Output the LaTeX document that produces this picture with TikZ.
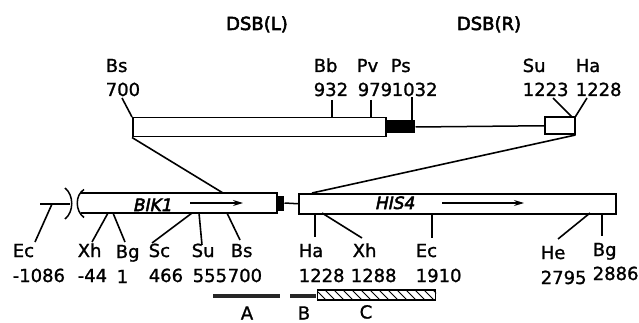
\documentclass[tikz,border=0pt]{standalone}
\usepackage{fontspec}
\setmainfont{DejaVu Sans}
\newfontfamily\labfont[FakeBold=1.2]{DejaVu Sans}
\newfontfamily\dsbfont[FakeBold=3]{DejaVu Sans}
\newfontfamily\genefont[FakeBold=3,FakeSlant=0.2]{DejaVu Sans}
\usetikzlibrary{arrows.meta}
\begin{document}
\begin{tikzpicture}[x=1pt,y=-1pt,line width=1.5pt,
  lab/.style={font=\labfont\fontsize{18}{18}\selectfont, inner sep=0pt, anchor=base west},
  dsb/.style={font=\dsbfont\fontsize{18}{18}\selectfont, inner sep=0pt, anchor=base},
  gene/.style={font=\genefont\fontsize{17}{17}\selectfont, inner sep=0pt, anchor=base west},
  bar/.style={draw, fill=white},
  lead/.style={line width=1.6pt},
  arr/.style={line width=1.3pt, -{Stealth[length=10pt,width=6pt]}},
  fragbar/.style={fill=black!85, draw=none}]
\useasboundingbox (0,0) rectangle (639,323);

% titles
\node[dsb] (dsbl) at (257,30) {DSB(L)};
\node[dsb] (dsbr) at (489,30) {DSB(R)};

% ---------- top plasmid fragment ----------
\node[bar, minimum width=253pt, minimum height=19pt, inner sep=0pt, anchor=north west] (topbar) at (132,117) {};
\node[fill=black, draw=none, minimum width=29pt, minimum height=13pt, inner sep=0pt, anchor=west] (topblack) at (385,127) {};
\node[bar, minimum width=30pt, minimum height=17pt, inner sep=0pt, anchor=north west] (smallbox) at (544,116.5) {};
\draw (topblack.east) -- (smallbox.west);

% top labels
\node[lab] (tBs) at (105,72) {Bs};
\node[lab] (tBsn) at (105,96) {700};
\node[lab] (tBb) at (313,72) {Bb};
\node[lab] (tBbn) at (313,96) {932};
\node[lab] (tPv) at (356,72) {Pv};
\node[lab] (tPvn) at (357,96) {979};
\node[lab] (tPs) at (390,72) {Ps};
\node[lab] (tPsn) at (391,96) {1032};
\node[lab] (tSu) at (522,72) {Su};
\node[lab] (tSun) at (522,96) {1223};
\node[lab] (tHa) at (575,72) {Ha};
\node[lab] (tHan) at (575,96) {1228};

% top leaders
\coordinate (lBs) at (122,98);
\coordinate (lBb) at (332,100);
\coordinate (lPv) at (371,100);
\coordinate (lPs) at (412,97);
\coordinate (lSu) at (553,98);
\coordinate (lHa) at (587,98);
\draw[lead] (lBs) -- (topbar.north west);
\draw[lead] (lBb) -- (lBb |- topbar.north);
\draw[lead] (lPv) -- (lPv |- topbar.north);
\draw[lead] (lPs) -- (lPs |- topblack.north);
\draw[lead] (lSu) -- ([xshift=-4pt]smallbox.north east);
\draw[lead] (lHa) -- (smallbox.north east);

% ---------- chromosome ----------
\coordinate (leftend) at (40,204);
\coordinate (brk) at (70,204);
\draw (leftend) -- (brk);
\draw (65,188) .. controls (74,195) and (74,212) .. (65,219);
\draw (84,189.5) .. controls (75,195) and (75,211) .. (84,217.5);
\draw[fill=white] (80.5,193) -- (277,193) -- (277,213) -- (80.5,213);
\node[fill=black, draw=none, minimum width=6pt, minimum height=15pt, inner sep=0pt, anchor=west] (conn) at (277,203) {};
\node[bar, minimum width=317pt, minimum height=20pt, inner sep=0pt, anchor=north west] (his) at (298,193) {};
\draw (conn.east) -- (his.west);

\node[gene] (bik1) at (132,211) {BIK1};
\coordinate (a1s) at (190,203);
\coordinate (a1e) at (243,203);
\draw[arr] (a1s) -- (a1e);
\node[gene] (his4) at (374,209) {HIS4};
\coordinate (a2s) at (442,203);
\coordinate (a2e) at (524,203);
\draw[arr] (a2s) -- (a2e);

% crossover lines
\coordinate (bikTop) at (223,193);
\coordinate (hisTop) at (312,193);
\draw[lead] (topbar.south west) -- (bikTop);
\draw[lead] (smallbox.south east) -- (hisTop);

% bottom labels
\node[lab] (bEc) at (12,257) {Ec};
\node[lab] (bEcn) at (12,282) {-1086};
\node[lab] (bXh) at (77,257) {Xh};
\node[lab] (bXhn) at (77,282) {-44};
\node[lab] (bBg) at (115,258) {Bg};
\node[lab] (bBgn) at (116,283) {1};
\node[lab] (bSc) at (148,257) {Sc};
\node[lab] (bScn) at (148,282) {466};
\node[lab] (bSu) at (191,257) {Su};
\node[lab] (bSun) at (192,282) {555};
\node[lab] (bBs) at (230,257) {Bs};
\node[lab] (bBsn) at (227,282) {700};
\node[lab] (bHa) at (298,257) {Ha};
\node[lab] (bHan) at (298,282) {1228};
\node[lab] (bXh2) at (352,257) {Xh};
\node[lab] (bXh2n) at (350,282) {1288};
\node[lab] (bEc2) at (415,257) {Ec};
\node[lab] (bEc2n) at (415,282) {1910};
\node[lab] (bHe) at (540,259) {He};
\node[lab] (bHen) at (540,284) {2795};
\node[lab] (bBg2) at (592,256) {Bg};
\node[lab] (bBg2n) at (592,280) {2886};

% bottom leaders
\coordinate (cEc) at (52,204);   \coordinate (dEc) at (35,242);
\coordinate (cXh) at (108,213);  \coordinate (dXh) at (92,242);
\coordinate (cBg) at (113,213);  \coordinate (dBg) at (125,242);
\coordinate (cSc) at (192,213);  \coordinate (dSc) at (152,243);
\coordinate (cSu) at (199,213);  \coordinate (dSu) at (202,245);
\coordinate (cBs) at (227,213);  \coordinate (dBs) at (240,240);
\coordinate (cHa) at (315,213);  \coordinate (dHa) at (315,237);
\coordinate (cXh2) at (322,213); \coordinate (dXh2) at (362,238);
\coordinate (cEc2) at (432,213); \coordinate (dEc2) at (432,238);
\coordinate (cHe) at (590,213);  \coordinate (dHe) at (558,239);
\coordinate (cBg2) at (602,213); \coordinate (dBg2) at (602,236);
\foreach \n in {Ec,Xh,Bg,Sc,Su,Bs,Ha,Xh2,Ec2,He,Bg2}
  \draw[lead] (c\n) -- (d\n);

% probes
\node[fragbar, minimum width=67pt, minimum height=4.5pt, inner sep=0pt, anchor=west] (pA) at (212,296) {};
\node[fragbar, minimum width=26pt, minimum height=4.5pt, inner sep=0pt, anchor=west] (pB) at (289,296) {};
\node[draw, line width=1.1pt, minimum width=118pt, minimum height=10pt, inner sep=0pt, anchor=west] (pC) at (317,295) {};
\begin{scope}
  \clip (pC.north west) rectangle (pC.south east);
  \foreach \i in {0,...,14}
    \draw[line width=1pt] (307+9*\i,290) -- (317+9*\i,300);
\end{scope}
\node[lab, anchor=base] (lA) at (247,319.5) {A};
\node[lab, anchor=base] (lB) at (304,319.5) {B};
\node[lab, anchor=base] (lC) at (366,318.5) {C};
\end{tikzpicture}
\end{document}
